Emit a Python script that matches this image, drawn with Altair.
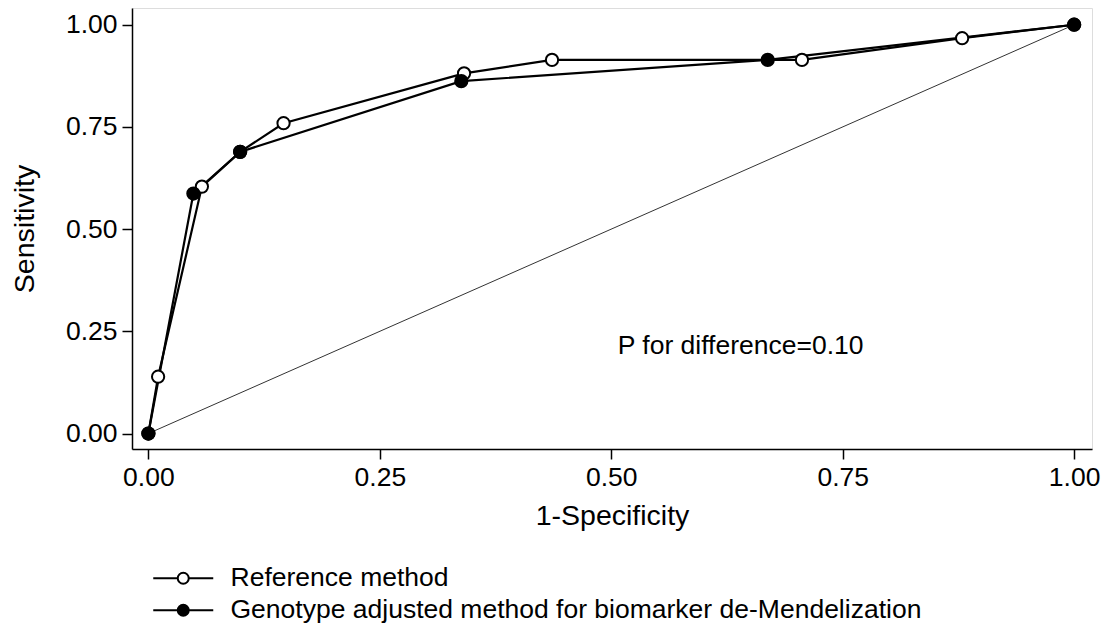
import altair as alt
import pandas as pd

FONT = "Liberation Sans"

series_names = ["Reference method", "Genotype adjusted method for biomarker de-Mendelization"]

ref_x = [0.0, 0.0105, 0.0578, 0.0991, 0.146, 0.341, 0.436, 0.706, 0.879, 1.0]
ref_y = [0.0, 0.139, 0.604, 0.689, 0.759, 0.881, 0.914, 0.914, 0.967, 1.0]

gen_x = [0.0, 0.0486, 0.0991, 0.338, 0.669, 1.0]
gen_y = [0.0, 0.587, 0.689, 0.862, 0.914, 1.0]

diag_x = [0.0, 1.0]
diag_y = [0.0, 1.0]

tick_values = [0.0, 0.25, 0.5, 0.75, 1.0]

note_text = ["P for difference=0.10"]
note_x = [0.507]
note_y = [0.194]

rows = []
for i, (x, y) in enumerate(zip(ref_x, ref_y)):
    rows.append({"series": series_names[0], "x": x, "y": y, "ord": i, "grp": 0})
for i, (x, y) in enumerate(zip(gen_x, gen_y)):
    rows.append({"series": series_names[1], "x": x, "y": y, "ord": i, "grp": 1})
df = pd.DataFrame(rows)

diag = pd.DataFrame({"x": diag_x, "y": diag_y})
note = pd.DataFrame({"x": note_x, "y": note_y, "text": note_text})

xscale = alt.Scale(domain=[-0.0177, 1.0193], nice=False, zero=False)
yscale = alt.Scale(domain=[-0.0379, 1.0409], nice=False, zero=False)

xaxis = alt.Axis(
    values=tick_values, format=".2f", title="1-Specificity", grid=False,
    domainColor="black", domainWidth=1.5, tickColor="black", tickWidth=1.5,
    tickSize=10, labelFontSize=26.5, labelFont=FONT, labelColor="black",
    labelPadding=5, titleFontSize=28.5, titleFont=FONT, titleFontWeight="normal",
    titleColor="black", titleBaseline="alphabetic", titleY=75,
)
yaxis = alt.Axis(
    values=tick_values, format=".2f", title="Sensitivity", grid=False,
    domainColor="black", domainWidth=1.5, tickColor="black", tickWidth=1.5,
    tickSize=10, labelFontSize=26.5, labelFont=FONT, labelColor="black",
    labelPadding=5, titleFontSize=28.5, titleFont=FONT, titleFontWeight="normal",
    titleColor="black", titleBaseline="alphabetic", titleAngle=-90,
    titleX=-99, titleY=220.5, titleAlign="center",
)

legend_path = "M-3,0H-0.55M0.55,0H3M0.55,0A0.55,0.55,0,1,1,-0.55,0A0.55,0.55,0,1,1,0.55,0"

diag_layer = alt.Chart(diag).mark_line(color="#333333", strokeWidth=1).encode(
    x=alt.X("x:Q", scale=xscale, axis=xaxis),
    y=alt.Y("y:Q", scale=yscale, axis=yaxis),
)

lines = alt.Chart(df).mark_line(color="black", strokeWidth=2.2).encode(
    x=alt.X("x:Q", scale=xscale, axis=xaxis),
    y=alt.Y("y:Q", scale=yscale, axis=yaxis),
    detail="series:N",
    order="ord:Q",
)

points = alt.Chart(df).mark_point(
    filled=True, stroke="black", strokeWidth=2, size=150, opacity=1, shape="circle"
).encode(
    x=alt.X("x:Q", scale=xscale, axis=xaxis),
    y=alt.Y("y:Q", scale=yscale, axis=yaxis),
    fill=alt.Fill(
        "series:N",
        scale=alt.Scale(domain=series_names, range=["white", "black"]),
        legend=alt.Legend(
            title=None, orient="none", legendX=38, legendY=557,
            symbolType=legend_path, symbolSize=400,
            symbolStrokeColor="black", symbolStrokeWidth=2,
            labelFontSize=26.5, labelFont=FONT, labelColor="black",
            labelOffset=34, rowPadding=5, padding=0, labelLimit=0,
        ),
    ),
    order="grp:Q",
)

text = alt.Chart(note).mark_text(
    align="left", baseline="alphabetic", fontSize=26.5, font=FONT, color="black"
).encode(
    x=alt.X("x:Q", scale=xscale),
    y=alt.Y("y:Q", scale=yscale),
    text="text:N",
)

chart = alt.layer(diag_layer, lines, points, text).properties(
    width=960, height=441,
    autosize=alt.AutoSizeParams(type="none"),
    padding={"left": 124, "top": 0, "right": 9, "bottom": 178},
).configure_view(stroke=None).configure(background="white")

chart.save("out.html", embed_options={"renderer": "svg", "actions": False})
